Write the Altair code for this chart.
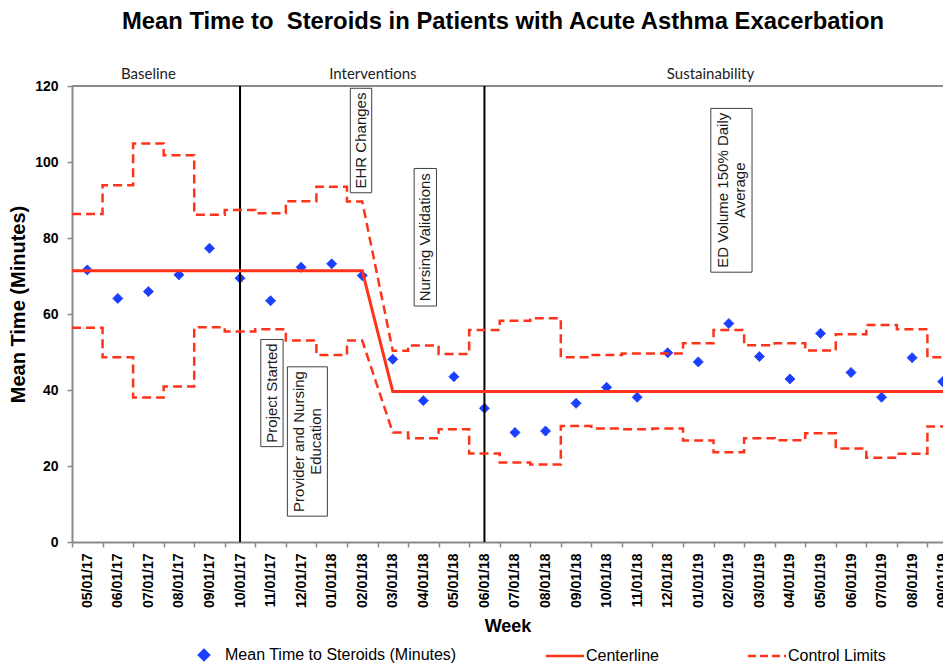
import altair as alt
import pandas as pd

# ---------------- data ----------------
months = ["05/01/17", "06/01/17", "07/01/17", "08/01/17", "09/01/17", "10/01/17",
          "11/01/17", "12/01/17", "01/01/18", "02/01/18", "03/01/18", "04/01/18",
          "05/01/18", "06/01/18", "07/01/18", "08/01/18", "09/01/18", "10/01/18",
          "11/01/18", "12/01/18", "01/01/19", "02/01/19", "03/01/19", "04/01/19",
          "05/01/19", "06/01/19", "07/01/19", "08/01/19", "09/01/19"]

mean_time = [71.6, 64.1, 65.9, 70.3, 77.3, 69.4, 63.5, 72.3, 73.2, 70.1,
             48.1, 37.2, 43.5, 35.2, 28.8, 29.2, 36.5, 40.7, 38.1, 49.8, 47.4,
             57.5, 48.8, 42.9, 54.9, 44.6, 38.1, 48.5, 42.2]

centerline = [71.4, 71.4, 71.4, 71.4, 71.4, 71.4, 71.4, 71.4, 71.4, 71.4,
              39.6, 39.6, 39.6, 39.6, 39.6, 39.6, 39.6, 39.6, 39.6, 39.6, 39.6,
              39.6, 39.6, 39.6, 39.6, 39.6, 39.6, 39.6, 39.6]

ucl = [86.3, 93.9, 104.9, 101.8, 86.1, 87.4, 86.5, 89.7, 93.5, 89.6,
       50.3, 51.7, 49.5, 55.8, 58.2, 58.9, 48.6, 49.2, 49.6, 49.6, 52.3,
       55.8, 51.8, 52.3, 50.4, 54.7, 57.1, 56.0, 48.6]

lcl = [56.4, 48.6, 38.0, 40.9, 56.5, 55.4, 56.0, 53.0, 49.2, 53.0,
       28.8, 27.3, 29.7, 23.3, 20.9, 20.4, 30.5, 29.9, 29.7, 29.9, 26.7,
       23.6, 27.3, 26.8, 28.6, 24.6, 22.2, 23.2, 30.4]

shift_after = "02/01/18"                 # limits recalculated after this month
phase_starts = ["10/01/17", "06/01/18"]  # vertical phase lines
phases = ["Baseline", "Interventions", "Sustainability"]
phase_label_x = [2.0, 9.35, 20.4]

annotations = [
    {"lines": ["EHR Changes"], "x1": 8.61, "x2": 9.31, "y1": 119.4, "y2": 91.9},
    {"lines": ["Nursing Validations"], "x1": 10.70, "x2": 11.43, "y1": 98.3, "y2": 62.1},
    {"lines": ["ED Volume 150% Daily", "Average"], "x1": 20.41, "x2": 21.76, "y1": 114.1, "y2": 71.0},
    {"lines": ["Project Started"], "x1": 5.68, "x2": 6.41, "y1": 53.3, "y2": 25.1},
    {"lines": ["Provider and Nursing", "Education"], "x1": 6.55, "x2": 7.86, "y1": 46.1, "y2": 6.8},
]

SERIES = ["Mean Time to Steroids (Minutes)", "Centerline", "Control Limits"]
BLUE = "#1a3fff"
RED = "#ff3319"
GRAY = "#8a8a8a"
FONT = "Liberation Sans"

# ---------------- scales / axes ----------------
W, H = 871, 456
band_px = 30.55
LINE_GAP_PX = 17

# ---------------- tables ----------------
idx = list(range(len(months)))
df_pts = pd.DataFrame({"idx": idx, "value": mean_time, "month": months,
                       "series": SERIES[0]})

brk = months.index(shift_after)


def step_vertices(vals, name):
    rows = []
    seq = 0
    for i, v in enumerate(vals):
        left = i if i == brk + 1 else i - 0.5
        right = i if i == brk else i + 0.5
        for xx in (left, right):
            rows.append({"x": xx, "y": v, "line": name, "seq": seq})
            seq += 1
    return rows


df_cl = pd.DataFrame(step_vertices(centerline, "CL"))
df_lim = pd.DataFrame(step_vertices(ucl, "UCL") + step_vertices(lcl, "LCL"))
df_vl = pd.DataFrame({"idx": [months.index(m) for m in phase_starts]})
df_phase = pd.DataFrame({"phase": phases, "x": phase_label_x})
df_box = pd.DataFrame([{k: a[k] for k in ("x1", "x2", "y1", "y2")} for a in annotations])

text_rows = []
for a in annotations:
    n = len(a["lines"])
    xc = (a["x1"] + a["x2"]) / 2
    yc = (a["y1"] + a["y2"]) / 2
    for k, t in enumerate(a["lines"]):
        text_rows.append({"text": t, "y": yc,
                          "x": xc + (k - (n - 1) / 2) * LINE_GAP_PX / band_px})
df_txt = pd.DataFrame(text_rows)
df_frame = pd.DataFrame({"x0": [-0.5], "x1": [len(months) - 0.5], "y": [120]})

x_scale = alt.Scale(domain=[-0.5, -0.5 + W / band_px], nice=False, zero=False)
y_scale = alt.Scale(domain=[0, 120], nice=False)

label_expr = "[" + ",".join("'%s'" % m for m in months) + "][datum.value]"
x_axis = alt.Axis(values=idx, labelExpr=label_expr, labelAngle=270,
                  tickOffset=-band_px / 2, labelOffset=band_px / 2,
                  labelFont=FONT, labelFontSize=14, labelFontWeight="bold",
                  labelColor="black", labelPadding=6, tickSize=5,
                  tickColor=GRAY, tickWidth=1.5, domainColor=GRAY, domainWidth=2,
                  grid=False, labelOverlap=False, labelBound=False,
                  titleFont=FONT, titleFontSize=18, titleFontWeight="bold",
                  titleColor="black", titlePadding=10)
y_axis = alt.Axis(values=[0, 20, 40, 60, 80, 100, 120], labelFont=FONT,
                  labelFontSize=14, labelFontWeight="bold", labelColor="black",
                  labelPadding=9, tickSize=5, tickColor=GRAY, tickWidth=1.5,
                  domainColor=GRAY, domainWidth=2, grid=False,
                  titleFont=FONT, titleFontSize=20, titleFontWeight="bold",
                  titleColor="black", titlePadding=6, titleY=218)

X_TITLE = "Week"
Y_TITLE = "Mean Time (Minutes)"


def X(field):
    return alt.X(field, scale=x_scale, axis=x_axis, title=X_TITLE)


def Y(field):
    return alt.Y(field, scale=y_scale, axis=y_axis, title=Y_TITLE)


DIAMOND = "M0,-1L1,0L0,1L-1,0Z"
LINE = "M-3.8,0L3.8,0"
legend = alt.Legend(title=None, orient="none", legendX=124, legendY=561,
                    direction="horizontal", columns=3, labelFont=FONT,
                    labelFontSize=16, labelColor="black", symbolSize=100,
                    symbolStrokeWidth=2.5, labelOffset=13, columnPadding=84,
                    labelLimit=400)

# ---------------- layers ----------------
pts = alt.Chart(df_pts).mark_point(filled=True, opacity=1, size=100,
                                   strokeWidth=1).encode(
    x=X("idx:Q"),
    y=Y("value:Q"),
    fill=alt.Fill("series:N", scale=alt.Scale(domain=SERIES, range=[BLUE, RED, RED]),
                  legend=legend),
    stroke=alt.Stroke("series:N", scale=alt.Scale(domain=SERIES, range=[BLUE, RED, RED]),
                      legend=legend),
    shape=alt.Shape("series:N", scale=alt.Scale(domain=SERIES,
                                                range=[DIAMOND, LINE, LINE]),
                    legend=legend),
    strokeDash=alt.StrokeDash("series:N",
                              scale=alt.Scale(domain=SERIES,
                                              range=[[1, 0], [1, 0], [8, 4]]),
                              legend=legend),
)

frame = alt.Chart(df_frame).mark_rule(color=GRAY, strokeWidth=2).encode(
    x=X("x0:Q"), x2="x1:Q", y=Y("y:Q"),
)

vlines = alt.Chart(df_vl).mark_rule(color="black", strokeWidth=2).encode(
    x=X("idx:Q"),
    y=alt.YDatum(120, scale=y_scale, axis=y_axis, title=Y_TITLE),
    y2=alt.Y2Datum(0),
)

limits = alt.Chart(df_lim).mark_line(color=RED, strokeWidth=2.5,
                                     strokeDash=[9, 5]).encode(
    x=X("x:Q"), y=Y("y:Q"),
    detail="line:N",
    order="seq:Q",
)

center = alt.Chart(df_cl).mark_line(color=RED, strokeWidth=3).encode(
    x=X("x:Q"), y=Y("y:Q"),
    order="seq:Q",
)

boxes = alt.Chart(df_box).mark_rect(fill="white", stroke="#404040",
                                    strokeWidth=1).encode(
    x=X("x1:Q"), x2="x2:Q",
    y=Y("y1:Q"), y2="y2:Q",
)

box_text = alt.Chart(df_txt).mark_text(angle=270, align="center",
                                       baseline="middle", font=FONT,
                                       fontSize=15, color="#1a1a1a").encode(
    x=X("x:Q"), y=Y("y:Q"),
    text="text:N",
)

phase_text = alt.Chart(df_phase).mark_text(font="Lato", fontSize=15,
                                           baseline="alphabetic",
                                           align="center", color="#222222").encode(
    x=X("x:Q"),
    y=alt.value(-7),
    text="phase:N",
)

chart = alt.layer(pts, frame, vlines, limits, center, boxes, box_text,
                  phase_text).properties(
    width=W, height=H,
    title=alt.TitleParams(
        text="Mean Time to \u00a0Steroids in Patients with Acute Asthma Exacerbation",
        font=FONT, fontSize=23.8, fontWeight="bold", color="black",
        anchor="middle", offset=33, dx=-4.5),
    padding={"left": 64, "top": 78, "right": 0, "bottom": 122},
    autosize=alt.AutoSizeParams(type="none"),
).configure_view(stroke=None).configure(background="white")

chart.save("out.html", embed_options={"renderer": "svg", "actions": False})
